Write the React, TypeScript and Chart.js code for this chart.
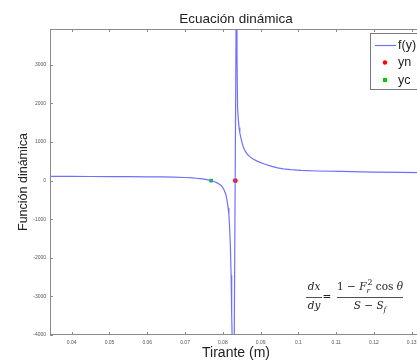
import React, { useEffect, useRef } from "react";
import { Chart, registerables } from "chart.js";

Chart.register(...registerables);

// ---- data ----
const tirante = [
  0.0343, 0.037, 0.04, 0.045, 0.05, 0.055, 0.06, 0.064, 0.067, 0.07, 0.072, 0.073, 0.074, 0.075, 0.0755,
  0.076, 0.0769, 0.0775, 0.078, 0.0785, 0.079, 0.0795, 0.08, 0.0804, 0.0808, 0.0811, 0.0814, 0.0816,
  0.0818, 0.082, 0.0822, 0.0823, 0.0824, 0.0825, 0.08255,
  0.08363, 0.08375, 0.0839, 0.0841, 0.0843, 0.0845, 0.0848, 0.0851, 0.0855,
  0.086, 0.0866, 0.0873, 0.088, 0.0892, 0.091, 0.093, 0.0945, 0.096, 0.098, 0.1007, 0.105, 0.1113,
  0.12, 0.1272, 0.1327,
];
const funcion = [
  112, 111, 110, 108, 106, 103, 100, 96, 90, 82, 70, 62, 52, 40, 32,
  22, 0, -15, -35, -58, -85, -125, -180, -255, -360, -500, -700, -880,
  -1200, -1700, -2450, -2950, -3500, -4200, -12000,
  6000, 3300, 1900, 1580, 1380, 1240, 1100, 980, 850,
  750, 670, 610, 560, 500, 430, 370, 330, 305, 285, 266, 250, 240,
  222, 214, 208,
];
const ynX = [0.0833];
const ynF = [0];
const ycX = [0.0769];
const ycF = [0];

const xTicks = [0.04, 0.05, 0.06, 0.07, 0.08, 0.09, 0.1, 0.11, 0.12, 0.13];
const xTickLabels = ["0.04", "0.05", "0.06", "0.07", "0.08", "0.09", "0.1", "0.11", "0.12", "0.13"];
const yTicks = [-4000, -3000, -2000, -1000, 0, 1000, 2000, 3000];
const yTickLabels = ["-4000", "-3000", "-2000", "-1000", "0", "1000", "2000", "3000"];

const seriesLabels = ["f(y)", "yn", "yc"];
const titleText = "Ecuación dinámica";
const xTitleText = "Tirante (m)";
const yTitleText = "Función dinámica";

const X_MIN = 0.03425;
const X_MAX = 0.13273;
const Y_MIN = -4000;
const Y_MAX = 3930;

const CANVAS_W = 440;
const CANVAS_H = 362;

const LINE_COLOR = "rgb(112,112,255)";
const RED = "#ff0000";
const GREEN = "#00d000";
const TEXT = "#222222";
const AXIS = "#8a8a8a";
const SANS = '"Liberation Sans", Arial, sans-serif';
const SERIF = '"DejaVu Serif", serif';

type Run = { t: string; italic?: boolean; scale?: number; dy?: number; stackSup?: string };

function drawRuns(ctx: CanvasRenderingContext2D, runs: Run[], cx: number, baseline: number, size: number) {
  const fontFor = (r: Run, s?: number) =>
    `${r.italic ? "italic " : ""}${(s ?? (r.scale ?? 1)) * size}px ${SERIF}`;
  const widths = runs.map((r) => {
    ctx.font = fontFor(r);
    let w = ctx.measureText(r.t).width;
    if (r.stackSup) {
      ctx.font = fontFor({ t: r.stackSup }, 0.75);
      w = Math.max(w, ctx.measureText(r.stackSup).width + 1);
    }
    return w;
  });
  const total = widths.reduce((a, b) => a + b, 0);
  let x = cx - total / 2;
  ctx.textAlign = "left";
  ctx.textBaseline = "alphabetic";
  runs.forEach((r, i) => {
    ctx.font = fontFor(r);
    ctx.fillText(r.t, x, baseline + (r.dy ?? 0));
    if (r.stackSup) {
      ctx.font = fontFor({ t: r.stackSup }, 0.75);
      ctx.fillText(r.stackSup, x + 1, baseline - size * 0.45);
    }
    x += widths[i];
  });
}

const decorPlugin = {
  id: "decor",
  afterDatasetsDraw(chart: any) {
    const { ctx, chartArea } = chart;
    const { left, right, top, bottom } = chartArea;
    const xs = chart.scales.x;
    const ys = chart.scales.y;
    ctx.save();
    ctx.strokeStyle = AXIS;
    ctx.lineWidth = 1;
    ctx.strokeRect(left + 0.5, top + 0.5, right - left - 1, bottom - top - 1);
    ctx.beginPath();
    const tl = 3;
    xTicks.forEach((v) => {
      const px = Math.round(xs.getPixelForValue(v)) + 0.5;
      ctx.moveTo(px, bottom);
      ctx.lineTo(px, bottom - tl);
      ctx.moveTo(px, top);
      ctx.lineTo(px, top + tl);
    });
    yTicks.forEach((v) => {
      const py = Math.round(ys.getPixelForValue(v)) + 0.5;
      ctx.moveTo(left, py);
      ctx.lineTo(left + tl, py);
      ctx.moveTo(right, py);
      ctx.lineTo(right - tl, py);
    });
    ctx.stroke();
    ctx.restore();
  },
  afterDraw(chart: any) {
    const { ctx, chartArea } = chart;
    const { left, right, top, bottom } = chartArea;
    const cx = (left + right) / 2;
    ctx.save();
    ctx.fillStyle = TEXT;
    // title
    ctx.font = `13.5px ${SANS}`;
    ctx.textAlign = "center";
    ctx.textBaseline = "alphabetic";
    ctx.fillText(titleText, cx, 22.5);
    // x title
    ctx.font = `14px ${SANS}`;
    ctx.fillText(xTitleText, cx, 357);
    // y title
    ctx.save();
    ctx.translate(27, (top + bottom) / 2);
    ctx.rotate(-Math.PI / 2);
    ctx.font = `12.5px ${SANS}`;
    ctx.fillText(yTitleText, 0, 0);
    ctx.restore();

    // legend
    const lx = 370.5, ly = 33.5, lw = 70, lh = 56;
    ctx.fillStyle = "#ffffff";
    ctx.fillRect(lx, ly, lw, lh);
    ctx.strokeStyle = "#7a7a7a";
    ctx.lineWidth = 1;
    ctx.strokeRect(lx, ly, lw, lh);
    const labels = chart.data.datasets.map((d: any) => d.label);
    ctx.strokeStyle = LINE_COLOR;
    ctx.lineWidth = 1.2;
    ctx.beginPath();
    ctx.moveTo(375, 45.5);
    ctx.lineTo(396, 45.5);
    ctx.stroke();
    ctx.fillStyle = RED;
    ctx.beginPath();
    ctx.arc(385, 62.5, 2.2, 0, Math.PI * 2);
    ctx.fill();
    ctx.fillStyle = GREEN;
    ctx.fillRect(383, 78, 4, 4);
    ctx.fillStyle = TEXT;
    ctx.font = `12.5px ${SANS}`;
    ctx.textAlign = "left";
    ctx.textBaseline = "middle";
    ctx.fillText(labels[0], 398, 45.5);
    ctx.fillText(labels[1], 398, 63);
    ctx.fillText(labels[2], 398, 80.5);

    // formula dx/dy = (1 - Fr^2 cos θ)/(S - Sf)
    const size = 10.5;
    ctx.fillStyle = TEXT;
    drawRuns(ctx, [{ t: "dx", italic: true }], 314, 290, size);
    drawRuns(ctx, [{ t: "dy", italic: true }], 314, 309, size);
    drawRuns(ctx, [{ t: "=" }], 327, 300, size);
    drawRuns(
      ctx,
      [
        { t: "1 − " },
        { t: "F", italic: true },
        { t: "r", italic: true, scale: 0.7, dy: 2.5, stackSup: "2" },
        { t: " cos " },
        { t: "θ", italic: true },
      ],
      370,
      290,
      size
    );
    drawRuns(
      ctx,
      [{ t: "S − S", italic: true }, { t: "f", italic: true, scale: 0.7, dy: 2.5 }],
      370,
      309,
      size
    );
    ctx.strokeStyle = TEXT;
    ctx.lineWidth = 0.8;
    ctx.beginPath();
    ctx.moveTo(306, 297.5);
    ctx.lineTo(322, 297.5);
    ctx.moveTo(337, 297.5);
    ctx.lineTo(403, 297.5);
    ctx.stroke();
    ctx.restore();
  },
};

export default function App() {
  const canvasRef = useRef<HTMLCanvasElement | null>(null);

  useEffect(() => {
    const canvas = canvasRef.current;
    if (!canvas) return;
    const chart = new Chart(canvas, {
      type: "line",
      data: {
        datasets: [
          {
            label: seriesLabels[0],
            data: tirante.map((x, i) => ({ x, y: funcion[i] })),
            borderColor: LINE_COLOR,
            borderWidth: 1.2,
            pointRadius: 0,
            fill: false,
            tension: 0,
          },
          {
            label: seriesLabels[1],
            data: ynX.map((x, i) => ({ x, y: ynF[i] })),
            showLine: false,
            pointStyle: "circle",
            pointRadius: 2.4,
            pointBackgroundColor: RED,
            pointBorderColor: RED,
            pointBorderWidth: 0,
          },
          {
            label: seriesLabels[2],
            data: ycX.map((x, i) => ({ x, y: ycF[i] })),
            showLine: false,
            pointStyle: "rect",
            pointRadius: 2.6,
            pointBackgroundColor: GREEN,
            pointBorderColor: GREEN,
            pointBorderWidth: 0,
          },
        ],
      },
      options: {
        animation: false,
        responsive: false,
        devicePixelRatio: 1,
        layout: { padding: { top: 29, right: CANVAS_W - 422, left: 0, bottom: 0 } },
        plugins: {
          legend: { display: false },
          title: { display: false },
          tooltip: { enabled: false },
        },
        scales: {
          x: {
            type: "linear",
            min: X_MIN,
            max: X_MAX,
            grid: { display: false, drawTicks: false },
            border: { display: false },
            afterBuildTicks: (scale: any) => {
              scale.ticks = xTicks.map((v) => ({ value: v }));
            },
            afterFit: (scale: any) => {
              scale.height = CANVAS_H - 335;
            },
            ticks: {
              autoSkip: false,
              maxRotation: 0,
              padding: 5,
              color: "#555",
              font: { size: 5, family: SANS },
              callback: (_v: any, i: number) => xTickLabels[i],
            },
          },
          y: {
            type: "linear",
            min: Y_MIN,
            max: Y_MAX,
            grid: { display: false, drawTicks: false },
            border: { display: false },
            afterBuildTicks: (scale: any) => {
              scale.ticks = yTicks.map((v) => ({ value: v }));
            },
            afterFit: (scale: any) => {
              scale.width = 50;
            },
            ticks: {
              autoSkip: false,
              padding: 4,
              color: "#555",
              font: { size: 5, family: SANS },
              callback: (_v: any, i: number) => yTickLabels[i],
            },
          },
        },
      },
      plugins: [decorPlugin],
    } as any);
    return () => chart.destroy();
  }, []);

  return (
    <div
      style={{
        position: "absolute",
        left: 0,
        top: 0,
        width: 417,
        height: 362,
        overflow: "hidden",
        background: "#fff",
      }}
    >
      <canvas ref={canvasRef} width={CANVAS_W} height={CANVAS_H} style={{ display: "block" }} />
    </div>
  );
}
